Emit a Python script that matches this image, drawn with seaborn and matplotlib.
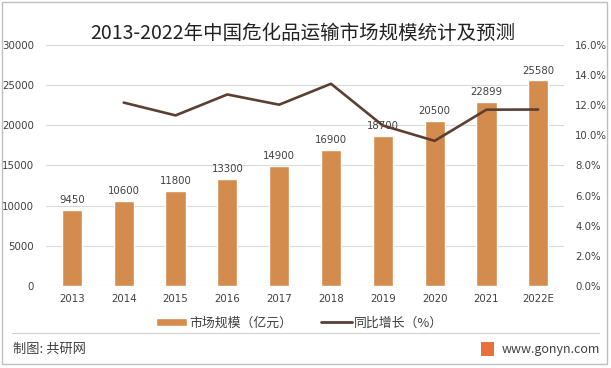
import numpy as np
import pandas as pd
import matplotlib.pyplot as plt
import seaborn as sns
from matplotlib.patches import Rectangle, Patch
from matplotlib.lines import Line2D

years = ['2013', '2014', '2015', '2016', '2017', '2018', '2019', '2020', '2021', '2022E']
market = [9450, 10600, 11800, 13300, 14900, 16900, 18700, 20500, 22899, 25580]
growth = [np.nan, 12.17, 11.32, 12.71, 12.03, 13.42, 10.65, 9.63, 11.70, 11.71]

BAR = '#D48C4E'
LINE = '#5B4032'
GRID = '#D9D9D9'
TXT = '#404040'

sns.set_theme(style='white')
plt.rcParams['font.family'] = ['Noto Sans CJK SC', 'DejaVu Sans']

df = pd.DataFrame({'year': years, 'market': market, 'growth': growth, 'pos': range(len(years))})

fig = plt.figure(figsize=(6.11, 3.68), dpi=100)
ax = fig.add_axes([0.0753, 0.223, 0.848, 0.655])

# bars - market size
sns.barplot(data=df, x='year', y='market', color=BAR, width=0.39, saturation=1, ax=ax)
ax.set_ylim(0, 30000)
ax.set_yticks(range(0, 30001, 5000))
ax.set_xlim(-0.5, len(years) - 0.5)
ax.grid(axis='y', color=GRID, linewidth=0.8)
ax.set_axisbelow(True)
for s in ax.spines.values():
    s.set_visible(False)
ax.set_xlabel('')
ax.set_ylabel('')
ax.tick_params(axis='both', length=0, labelsize=7.4, colors=TXT)
ax.tick_params(axis='y', pad=8.5)
ax.tick_params(axis='x', pad=6)
for lab in ax.get_yticklabels() + ax.get_xticklabels():
    lab.set_family('DejaVu Sans')
for c in ax.containers:
    ax.bar_label(c, labels=[str(v) for v in market], padding=3.5, fontsize=7.3,
                 color=TXT, family='DejaVu Sans')

# line - yoy growth
ax2 = ax.twinx()
sns.lineplot(data=df, x='pos', y='growth', color=LINE, linewidth=1.9, ax=ax2)
ax2.set_ylim(0, 16)
ax2.set_yticks(np.arange(0, 16.1, 2))
ax2.set_yticklabels([f'{v:.1f}%' for v in np.arange(0, 16.1, 2)])
ax2.set_ylabel('')
ax2.set_xlabel('')
for s in ax2.spines.values():
    s.set_visible(False)
ax2.tick_params(axis='y', length=0, labelsize=7.3, colors=TXT, pad=8)
for lab in ax2.get_yticklabels():
    lab.set_family('DejaVu Sans')

fig.text(0.496, 0.91, '2013-2022年中国危化品运输市场规模统计及预测', ha='center', va='center',
         fontsize=14, color='#222222')

handles = [Patch(facecolor=BAR), Line2D([0], [0], color=LINE, linewidth=2)]
fig.legend(handles, ['市场规模（亿元）', '同比增长（%）'], loc='center', bbox_to_anchor=(0.49, 0.122),
           ncol=2, frameon=False, fontsize=9.3, handlelength=2.4, handleheight=0.6,
           handletextpad=0.15, columnspacing=2.2, labelcolor=TXT)

fig.add_artist(Line2D([0.02, 0.98], [0.095, 0.095], color='#D0D0D0', linewidth=0.8))
fig.add_artist(Rectangle((0.004, 0.011), 0.99, 0.984, fill=False, edgecolor='#BFBFBF', linewidth=1))
fig.text(0.022, 0.051, '制图: 共研网', ha='left', va='center', fontsize=9.5, color=TXT)
fig.text(0.982, 0.051, 'www.gonyn.com', ha='right', va='center', fontsize=9, color=TXT)
fig.add_artist(Rectangle((0.787, 0.032), 0.022, 0.04, facecolor='#E8703A', edgecolor='none'))

fig.savefig('out.png', dpi=100)
